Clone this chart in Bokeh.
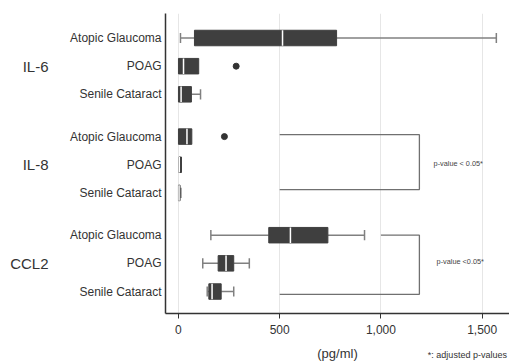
from bokeh.plotting import figure
from bokeh.models import (Range1d, FixedTicker, NumeralTickFormatter, ColumnDataSource,
                          LinearAxis)
from bokeh.embed import file_html
from bokeh.resources import INLINE
from bokeh.core.properties import value

groups = ["IL-6", "IL-8", "CCL2"]
subgroups = ["Atopic Glaucoma", "POAG", "Senile Cataract"]

# rows ordered: IL-6 (AG, POAG, SC), IL-8 (AG, POAG, SC), CCL2 (AG, POAG, SC)
whisker_low = [10, 0, 0, 0, 2, 0, 160, 120, 142]
q1 = [79, 0, 0, 0, 2, 0, 446, 196, 150]
median = [514, 25, 13, 42, 4, 3, 553, 235, 166]
q3 = [781, 100, 64, 66, 15, 8, 738, 273, 211]
whisker_high = [1570, 100, 109, 66, 15, 12, 919, 350, 273]

outlier_rows = [1, 3]
outlier_values = [285, 227]

x_ticks = [0, 500, 1000, 1500]

bracket_groups = [1, 2]
bracket_top_from = [500, 1000]
bracket_bottom_from = [500, 500]
bracket_at = [1190, 1190]
pvalue_texts = ["p-value < 0.05*", "p-value <0.05*"]
pvalue_x = [1260, 1275]

footnote = "*: adjusted p-values"
footnote_at = 1427
x_label = "(pg/ml)"

FONT = "Liberation Sans"
TEXT = "#333333"


def pos(g, s):
    return 1 + 3.5 * g + s


rows = [pos(g, s) for g in range(len(groups)) for s in range(len(subgroups))]
row_labels = [sg for g in groups for sg in subgroups]
group_mid = [pos(g, 1) for g in range(len(groups))]

p = figure(width=509, height=363, output_backend="svg", toolbar_location=None,
           x_range=Range1d(-64, 1635), y_range=Range1d(10.78, 0.13),
           min_border_left=165, min_border_right=0, min_border_top=13, min_border_bottom=49,
           outline_line_color=None)

src = ColumnDataSource(dict(y=rows, lo=whisker_low, q1=q1, med=median, q3=q3, hi=whisker_high,
                            ylo=[r - 0.275 for r in rows], yhi=[r + 0.275 for r in rows]))

WH = "#808080"
# whiskers
p.segment(x0="lo", x1="q1", y0="y", y1="y", source=src, line_color=WH, line_width=1.5)
p.segment(x0="q3", x1="hi", y0="y", y1="y", source=src, line_color=WH, line_width=1.5)

cap_x, cap_y = [], []
for r, lo, a, b, hi in zip(rows, whisker_low, q1, q3, whisker_high):
    if lo < a:
        cap_x.append(lo); cap_y.append(r)
    if hi > b:
        cap_x.append(hi); cap_y.append(r)
p.segment(x0=cap_x, x1=cap_x, y0=[c - 0.18 for c in cap_y], y1=[c + 0.18 for c in cap_y],
          line_color=WH, line_width=1.5)

# boxes
p.hbar(y="y", left="q1", right="q3", height=0.55, source=src, fill_color="#3f3f3f",
       line_color="#3f3f3f", line_width=1)
p.segment(x0="med", x1="med", y0="ylo", y1="yhi", source=src, line_color="white", line_width=1.5)

# outliers
p.scatter(x=outlier_values, y=[rows[i] for i in outlier_rows], size=6, color="#333333")

# significance brackets
for g, tf, bf, at, txt, tx in zip(bracket_groups, bracket_top_from, bracket_bottom_from,
                                  bracket_at, pvalue_texts, pvalue_x):
    top = pos(g, 0) - (0.07 if g == 1 else 0.0)
    bot = pos(g, 2) + (-0.12 if g == 1 else 0.1)
    p.line(x=[tf, at, at, bf], y=[top, top, bot, bot], line_color="#707070", line_width=1.3)
    p.text(x=[tx], y=[pos(g, 1) - 0.05], text=[txt], text_font=value(FONT),
           text_font_size="7.3px", text_color="#444444", text_baseline="middle")

# grid
p.xgrid.ticker = FixedTicker(ticks=x_ticks)
p.xgrid.grid_line_color = "#e6e6e6"
p.xgrid.grid_line_width = 1
p.ygrid.grid_line_color = None

# x axis (ticks and numbers)
xa = p.xaxis[0]
xa.ticker = FixedTicker(ticks=x_ticks)
xa.formatter = NumeralTickFormatter(format="0,0")
xa.major_label_text_font = FONT
xa.major_label_text_font_size = "12px"
xa.major_label_text_color = TEXT
xa.major_label_standoff = 6
xa.major_tick_out = 5
xa.major_tick_in = 0
xa.major_tick_line_color = "#333333"
xa.minor_tick_line_color = None
xa.axis_line_color = "#333333"
xa.axis_line_width = 1.5

# second bottom axis: unit label and footnote on one line
fa = LinearAxis(ticker=FixedTicker(ticks=[footnote_at]),
                major_label_overrides={footnote_at: footnote},
                major_label_text_font=FONT, major_label_text_font_size="9px",
                major_label_text_color=TEXT, major_label_standoff=13,
                major_tick_line_color=None, major_tick_out=0, major_tick_in=0,
                minor_tick_line_color=None, axis_line_color=None,
                axis_label=x_label, axis_label_text_font=FONT,
                axis_label_text_font_style="normal", axis_label_text_font_size="13px",
                axis_label_text_color=TEXT, axis_label_standoff=-17)
p.add_layout(fa, "below")

# inner y axis: subgroup names
ya = p.yaxis[0]
ya.ticker = FixedTicker(ticks=rows)
ya.major_label_overrides = {r: lab for r, lab in zip(rows, row_labels)}
ya.major_label_text_font = FONT
ya.major_label_text_font_size = "12px"
ya.major_label_text_color = TEXT
ya.major_label_standoff = 4
ya.major_tick_line_color = None
ya.major_tick_out = 0
ya.major_tick_in = 0
ya.minor_tick_line_color = None
ya.axis_line_color = "#333333"
ya.axis_line_width = 1.5

# outer y axis: group names
ga = LinearAxis(ticker=FixedTicker(ticks=group_mid),
                major_label_overrides={m: g for m, g in zip(group_mid, groups)},
                major_label_text_font=FONT, major_label_text_font_size="15px",
                major_label_text_color=TEXT, major_label_standoff=19,
                major_tick_line_color=None, major_tick_out=0, major_tick_in=0,
                minor_tick_line_color=None, axis_line_color=None)
p.add_layout(ga, "left")

open("out.html", "w").write(file_html(p, INLINE))
